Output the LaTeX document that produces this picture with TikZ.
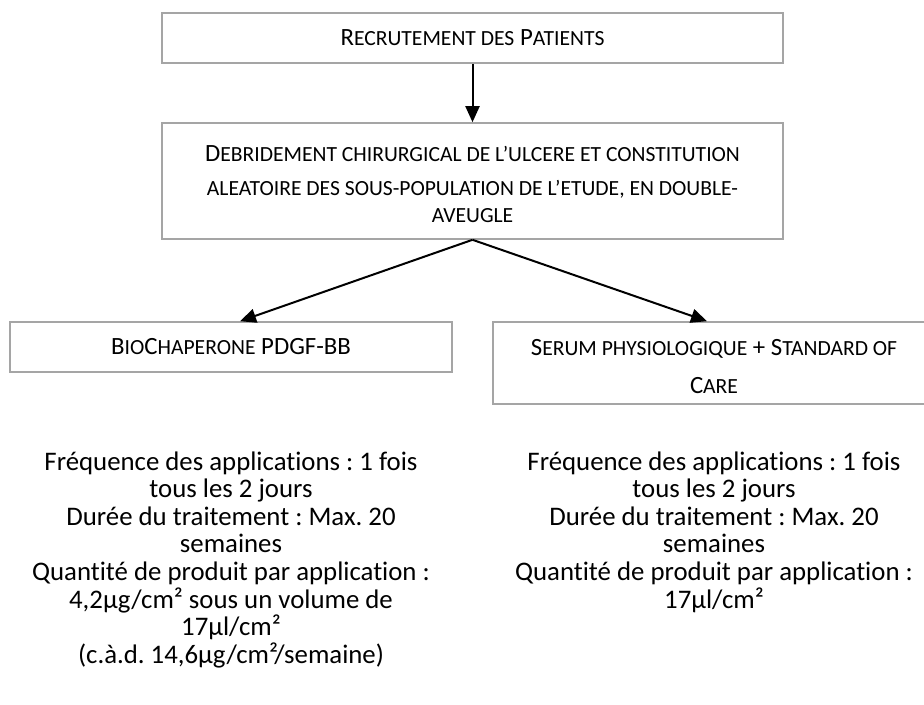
\documentclass[tikz,border=0pt]{standalone}
\usepackage{fontspec}
\setmainfont{Carlito}[Ligatures={NoCommon}]
\usetikzlibrary{positioning,arrows.meta}
\definecolor{boxgray}{RGB}{165,165,165}
\newcommand{\pcap}[1]{{\fontsize{10.8}{13.5}\selectfont #1}}
\frenchspacing

\begin{document}
\begin{tikzpicture}[x=0.5pt,y=-0.5pt,
		every node/.style={align=center,
			inner sep=0pt,
			font=\fontsize{13.4}{13.8}\selectfont,
		},
		stagebox/.style={draw=boxgray, line width=0.8pt, minimum width=310.5pt,
			font=\fontsize{12.4}{13.5}\selectfont},
		armbox/.style={draw=boxgray, line width=0.8pt, minimum width=221pt,
			font=\fontsize{12.4}{13.5}\selectfont},
		flow/.style={-{Triangle[length=8pt,width=7pt]}, line width=1pt},
		]

		\useasboundingbox (0,0) rectangle (924,705);
		\clip (0,0) rectangle (924,705);

		\node (recrut) [stagebox, minimum height=25pt] at (472.5,38) {R\pcap{ECRUTEMENT DES} P\pcap{ATIENTS}};
		\node (debrid) [stagebox, minimum height=58pt] at (472.5,181)
			{\rule{0pt}{11.5pt}D\pcap{EBRIDEMENT CHIRURGICAL DE L’ULCERE ET CONSTITUTION}\\[3.5pt]
			\pcap{ALEATOIRE DES SOUS-POPULATION DE L’ETUDE, EN DOUBLE-}\\
			\pcap{AVEUGLE}};
		\node (bio) [armbox, minimum height=25pt] at (231,347) {B\pcap{IO}C\pcap{HAPERONE} PDGF-BB};
		\node (serum) [armbox, minimum height=41pt] at (714,363)
			{\rule{0pt}{12pt}S\pcap{ERUM PHYSIOLOGIQUE} + S\pcap{TANDARD OF}\\[5.5pt] C\pcap{ARE}};

		\draw[flow] (recrut) -- (debrid);
		\draw[flow] (debrid.south) -- ([xshift=4.5pt]bio.north);
		\draw[flow] (debrid.south) -- ([xshift=-3.5pt]serum.north);

		% protocoles des deux bras
		\node (protobio) [anchor=north] at (bio.south |- 0,451) {Fréquence des applications : 1 fois\\
			tous les 2 jours\\
			Durée du traitement : Max. 20\\
			semaines\\
			Quantité de produit par application :\\
			4,2µg/cm² sous un volume de\\
			17µl/cm²\\
			(c.à.d. 14,6µg/cm²/semaine)};
		\node (protoserum) [anchor=north] at (serum.south |- 0,451) {Fréquence des applications : 1 fois\\
			tous les 2 jours\\
			Durée du traitement : Max. 20\\
			semaines\\
			Quantité de produit par application :\\
			17µl/cm²};

	\end{tikzpicture}
\end{document}
